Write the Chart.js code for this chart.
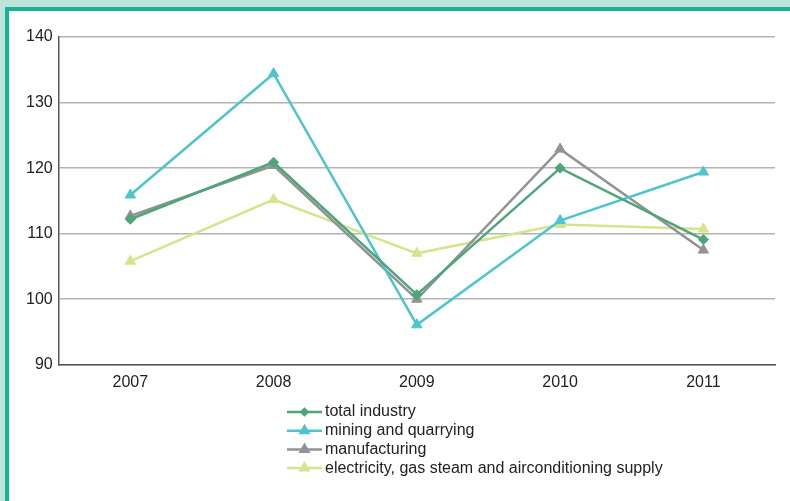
<!DOCTYPE html>
<html>
<head>
<meta charset="utf-8">
<script src="https://cdn.jsdelivr.net/npm/chart.js@4/dist/chart.umd.min.js"></script>
<style>
  html, body { margin: 0; padding: 0; background: #fff; }
  .outer { width: 785px; height: 494px; border-top: 7px solid #bde3da; border-left: 5px solid #bde3da; }
  .inner { width: 781px; height: 490px; border-top: 4px solid #17b394; border-left: 4px solid #17b394; background: #fff; }
  .box { position: relative; width: 781px; height: 490px; }
</style>
</head>
<body>
<div class="outer"><div class="inner"><div class="box"><canvas id="myChart"></canvas></div></div></div>
<script>
const years = ["2007", "2008", "2009", "2010", "2011"];
const totalIndustry = [112.2, 120.9, 100.7, 120.0, 109.1];
const miningQuarrying = [115.9, 134.4, 96.1, 112.0, 119.4];
const manufacturing = [112.7, 120.4, 100.0, 122.9, 107.5];
const electricity = [105.8, 115.2, 107.0, 111.4, 110.7];
const yTicks = [90, 100, 110, 120, 130, 140];

const font = "'Liberation Sans', Arial, sans-serif";

function series(label, data, color, marker, radius) {
    return {
        label: label,
        data: data,
        borderColor: color,
        backgroundColor: color,
        borderWidth: 2.5,
        pointStyle: marker,
        pointRadius: radius,
        pointBorderWidth: 1,
        tension: 0
    };
}

// legend drawn as line + marker, like the original
const lineLegend = {
    id: 'lineLegend',
    afterDraw(chart) {
        const c = chart.ctx;
        const x0 = 278, x1 = 313, y0 = 401, step = 18.7;
        c.save();
        chart.data.datasets.forEach((ds, i) => {
            const y = y0 + i * step;
            c.strokeStyle = ds.borderColor;
            c.lineWidth = 2.5;
            c.beginPath();
            c.moveTo(x0, y);
            c.lineTo(x1, y);
            c.stroke();
            c.fillStyle = ds.borderColor;
            Chart.helpers.drawPoint(c, {pointStyle: ds.pointStyle, radius: ds.pointStyle === 'rectRot' ? 3 : 4.5, borderWidth: 1}, (x0 + x1) / 2, y);
            c.fillStyle = '#222';
            c.font = '16px ' + font;
            c.textBaseline = 'middle';
            c.textAlign = 'left';
            c.fillText(ds.label, x1 + 3, y);
        });
        c.restore();
    }
};

let ctx = document.getElementById("myChart").getContext('2d');
let myLineChart = new Chart(ctx, {
    type: 'line',
    data: {
        labels: years,
        datasets: [
            series('total industry', totalIndustry, '#4da57a', 'rectRot', 5),
            series('mining and quarrying', miningQuarrying, '#4fc4cd', 'triangle', 6),
            series('manufacturing', manufacturing, '#939395', 'triangle', 6),
            series('electricity, gas steam and airconditioning supply', electricity, '#d4e58d', 'triangle', 6)
        ]
    },
    options: {
        responsive: true,
        maintainAspectRatio: false,
        animation: false,
        layout: { padding: { left: 11, right: 15, top: 26, bottom: 101 } },
        plugins: {
            legend: { display: false },
            tooltip: { enabled: false }
        },
        scales: {
            x: {
                offset: true,
                grid: { display: false, drawTicks: false },
                border: { display: true, color: '#555', width: 1.5 },
                ticks: { color: '#222', font: { family: font, size: 16 }, padding: 8 }
            },
            y: {
                min: 90,
                max: 140,
                afterBuildTicks(axis) { axis.ticks = yTicks.map(v => ({ value: v })); },
                grid: { color: '#b3b3b3', lineWidth: 1.5, drawTicks: false },
                border: { display: true, color: '#555', width: 1.5 },
                ticks: { color: '#222', font: { family: font, size: 16 }, padding: 6 }
            }
        }
    },
    plugins: [lineLegend]
});
</script>
</body>
</html>
